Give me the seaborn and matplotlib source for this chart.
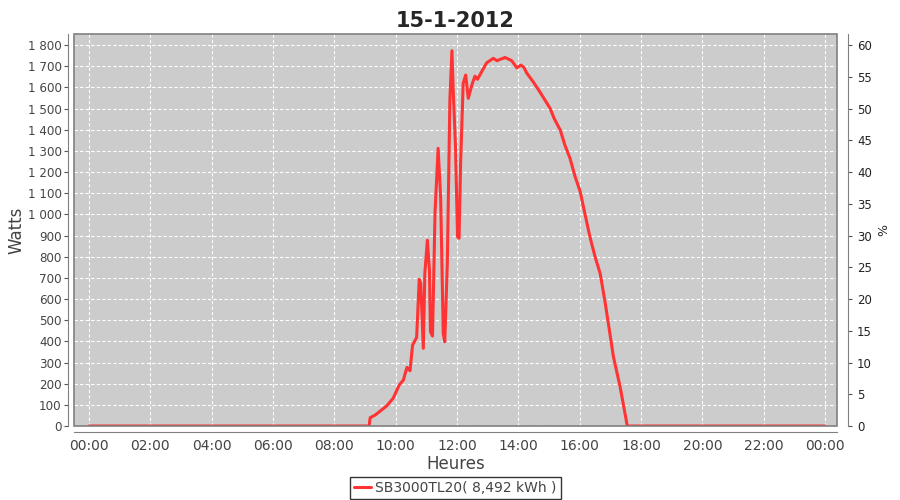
import pandas as pd
import seaborn as sns
import matplotlib.pyplot as plt
from matplotlib.patches import Rectangle
from matplotlib.ticker import FuncFormatter, MultipleLocator

# Relevés de l'onduleur (heure, puissance en W)
heures = [
    "00:00", "09:08", "09:10", "09:20", "09:42", "09:55", "10:07", "10:15",
    "10:22", "10:28", "10:33", "10:41", "10:46", "10:49", "10:54", "10:57",
    "11:02", "11:06", "11:08", "11:12", "11:17", "11:23", "11:28", "11:33",
    "11:36", "11:41", "11:46", "11:50", "11:53", "11:57", "12:01", "12:04",
    "12:07", "12:12", "12:17", "12:22", "12:29", "12:35", "12:40", "12:48",
    "12:58", "13:11", "13:18", "13:34", "13:47", "13:57", "14:05", "14:11",
    "14:16", "14:29", "14:39", "14:52", "15:02", "15:10", "15:22", "15:31",
    "15:41", "15:51", "16:01", "16:10", "16:20", "16:30", "16:40", "16:50",
    "16:59", "17:06", "17:19", "17:25", "17:31", "17:33", "24:00",
]
watts = [
    0, 0, 39, 52, 94, 131, 194, 217,
    277, 261, 382, 419, 693, 675, 367, 722,
    878, 737, 446, 425, 1012, 1312, 1076, 438,
    398, 768, 1540, 1773, 1556, 1319, 894, 887,
    1241, 1619, 1658, 1548, 1611, 1653, 1638, 1673,
    1716, 1737, 1726, 1741, 1726, 1692, 1705, 1694,
    1669, 1626, 1590, 1540, 1501, 1453, 1398, 1327,
    1265, 1178, 1107, 1005, 894, 800, 721, 580,
    438, 327, 186, 107, 28, 0, 0,
]
serie = "SB3000TL20( 8,492 kWh )"

df = pd.DataFrame({"heure": heures, "watts": watts})
df["h"] = pd.to_timedelta(df["heure"] + ":00").dt.total_seconds() / 3600

sns.set_style("white")
plt.rcParams["font.family"] = ["DejaVu Sans"]

fig = plt.figure(figsize=(9, 5), dpi=100)
ax = fig.add_axes([74 / 900, 1 - 426 / 500, (837 - 74) / 900, (426 - 34) / 500])
ax.set_facecolor("#cccccc")

sns.lineplot(data=df, x="h", y="watts", ax=ax, color="#ff3333", linewidth=2.2,
             label=serie, zorder=3)

ax.set_xlim(-0.49, 24.39)
ax.set_ylim(0, 1852)
ax.xaxis.set_major_locator(MultipleLocator(2))
ax.xaxis.set_major_formatter(FuncFormatter(lambda v, p: "%02d:00" % (int(round(v)) % 24)))
ax.yaxis.set_major_locator(MultipleLocator(100))
ax.yaxis.set_major_formatter(FuncFormatter(lambda v, p: "{:,}".format(int(v)).replace(",", " ")))
ax.grid(True, color="white", linestyle=(0, (3, 2)), linewidth=0.8)

gris = "#555555"
for s in ["top", "right"]:
    ax.spines[s].set_visible(False)
for s in ["left", "bottom"]:
    ax.spines[s].set_position(("outward", 4))
    ax.spines[s].set_color("#808080")
ax.add_patch(Rectangle((0, 0), 1, 1, transform=ax.transAxes, fill=False,
                       edgecolor="#808080", linewidth=1.2, zorder=4, clip_on=False))
ax.tick_params(axis="x", colors=gris, labelsize=10, length=3, width=0.8,
               labelcolor="#444444", pad=2)
ax.tick_params(axis="y", colors=gris, labelsize=8.6, length=3, width=0.8,
               labelcolor="#444444", pad=2)

ax.set_xlabel("Heures", fontsize=12, color="#444444", labelpad=2)
ax.set_ylabel("Watts", fontsize=12, color="#444444")
ax.yaxis.set_label_coords(-0.063, 0.5)
ax.set_title("15-1-2012", fontsize=15, fontweight="bold", pad=5)

# axe secondaire en %
ax2 = ax.twinx()
ax2.set_ylim(0, 1852 / 30)
ax2.yaxis.set_major_locator(MultipleLocator(5))
for s in ["top", "left", "bottom"]:
    ax2.spines[s].set_visible(False)
ax2.spines["right"].set_position(("outward", 8))
ax2.spines["right"].set_color("#808080")
ax2.tick_params(axis="y", colors=gris, labelsize=8.5, length=3, width=0.8, labelcolor="#222222")
ax2.set_ylabel("%", fontsize=9, rotation=90, labelpad=4)

leg = ax.legend(loc="upper center", bbox_to_anchor=(0.5, -0.13), frameon=True,
                fancybox=False, fontsize=10, handlelength=1.2, handletextpad=0.3,
                borderpad=0.3, borderaxespad=0)
leg.get_frame().set_edgecolor("black")
leg.get_frame().set_linewidth(1)
for t in leg.get_texts():
    t.set_color("#444444")

fig.savefig("out.png", dpi=100)
